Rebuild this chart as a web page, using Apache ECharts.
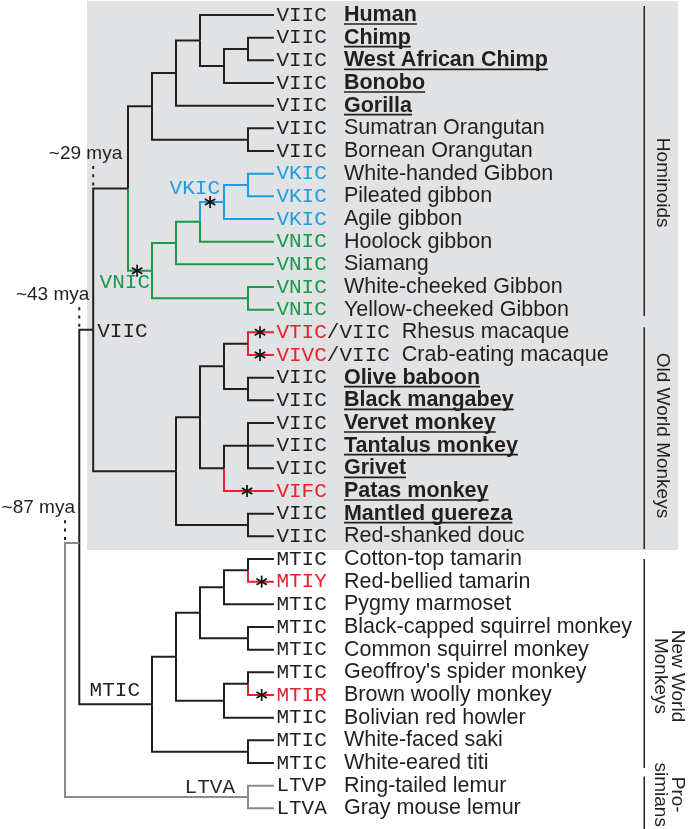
<!DOCTYPE html>
<html><head><meta charset="utf-8">
<script src="https://cdn.jsdelivr.net/npm/echarts@6/dist/echarts.min.js"></script>
<style>html,body{margin:0;padding:0;background:#fff}#c{width:694px;height:829px}</style>
</head><body><div id="c"></div>
<script>
// ---------------- DATA ----------------
const leafNames = ['Human','Chimp','West African Chimp','Bonobo','Gorilla','Sumatran Orangutan','Bornean Orangutan',
  'White-handed Gibbon','Pileated gibbon','Agile gibbon','Hoolock gibbon','Siamang','White-cheeked Gibbon','Yellow-cheeked Gibbon',
  'Rhesus macaque','Crab-eating macaque','Olive baboon','Black mangabey','Vervet monkey','Tantalus monkey','Grivet','Patas monkey',
  'Mantled guereza','Red-shanked douc','Cotton-top tamarin','Red-bellied tamarin','Pygmy marmoset','Black-capped squirrel monkey',
  'Common squirrel monkey',"Geoffroy's spider monkey",'Brown woolly monkey','Bolivian red howler','White-faced saki','White-eared titi',
  'Ring-tailed lemur','Gray mouse lemur'];
const leafMotifs = ['VIIC','VIIC','VIIC','VIIC','VIIC','VIIC','VIIC',
  'VKIC','VKIC','VKIC','VNIC','VNIC','VNIC','VNIC',
  'VTIC/VIIC','VIVC/VIIC','VIIC','VIIC','VIIC','VIIC','VIIC','VIFC',
  'VIIC','VIIC','MTIC','MTIY','MTIC','MTIC',
  'MTIC','MTIC','MTIR','MTIC','MTIC','MTIC',
  'LTVP','LTVA'];
const leafBold = [1,1,1,1,1,0,0, 0,0,0,0,0,0,0, 0,0,1,1,1,1,1,1, 1,0,0,0,0,0, 0,0,0,0,0,0, 0,0];
// tree: d = branch-point depth, st = motif state of the branch, lab = motif label, mut = mutation mark position, age = divergence time
const tree =
{d:1.375, st:'LTVA', age:'~87 mya', kids:[
  {d:1.97, st:'LTVA', y:23.29, age:'~43 mya', kids:[
    {d:2.55, st:'VIIC', age:'~29 mya', lab:'VIIC', kids:[
      {d:4, kids:[
        {d:5, kids:[
          {d:6, kids:[
            {d:7, kids:[0, {d:8, kids:[{d:9, kids:[1,2]}, 3]}]},
            4]},
          {d:9, kids:[5,6]}]},
        {d:5, st:'VNIC', lab:'VNIC', mut:4.38, kids:[
          {d:6, st:'VNIC', kids:[
            {d:7, st:'VNIC', kids:[
              {d:8, st:'VKIC', lab:'VKIC', mut:7.42, kids:[{d:9, st:'VKIC', kids:[7,8]}, 9]},
              10]},
            11]},
          {d:9, st:'VNIC', kids:[12,13]}]}]},
      {d:6, kids:[
        {d:7, kids:[
          {d:8, kids:[{d:9, kids:[14,15]}, {d:9, kids:[16,17]}]},
          {d:8, kids:[{d:9, kids:[18,19,20]}, 21]}]},
        {d:9, kids:[22,23]}]}]},
    {d:5, st:'MTIC', lab:'MTIC', kids:[
      {d:6, kids:[
        {d:7, kids:[
          {d:8, kids:[{d:9, kids:[24,25]}, 26]},
          {d:9, kids:[27,28]}]},
        {d:8, kids:[{d:9, kids:[29,30]}, 31]}]},
      {d:9, kids:[32,33]}]}]},
  {d:9, st:'LTVA', lab:'LTVA', kids:[34,35]}]};
const leafMutations = [[14,9.5],[15,9.5],[21,8.96],[25,9.57],[30,9.57]];
const groupNames = ['Hominoids','Old World Monkeys','New World\nMonkeys','Pro-\nsimians'];
const groupSpans = [[-0.4,13.28],[13.78,23.56],[24.0,33.22],[33.6,35.95]];

// ---------------- STYLE / LAYOUT ----------------
const TIP = 10.08;
const X0 = 32, XU = 24;
const BLACK = '#231f20';
const stateColor = {VIIC:BLACK, MTIC:BLACK, VKIC:'#1d9de2', VNIC:'#19994a', LTVA:'#8b8b8b', LTVP:'#8b8b8b'};
const textColor = {VIIC:BLACK, MTIC:BLACK, VKIC:'#1d9de2', VNIC:'#19994a', LTVA:BLACK, LTVP:BLACK};
const RED = '#e8212b';
const colorOf = s => stateColor[s] || RED;
const tColorOf = s => textColor[s] || RED;
const MONO = '21px "Liberation Mono"';
const SANS = '21.5px "Liberation Sans"';
const SANSB = 'bold 21.5px "Liberation Sans"';
const nodeLabelStyle = {VIIC:{dx:4,dy:2,align:'left',color:BLACK}, VNIC:{dx:-2,dy:12,align:'right',color:'#19994a'},
  VKIC:{dx:-4,dy:-14,align:'right',color:'#1d9de2'}, MTIC:{dx:-12,dy:-14,align:'right',color:BLACK},
  LTVA:{dx:-13,dy:-10,align:'right',color:'#2b2b2b'}};
const ageDx = {'~29 mya':29, '~43 mya':10, '~87 mya':10};
const groupLabelY = [7.4, 18.55, 29.16, 34.4];
const bracketX = 25.51;
const bgBox = [2.29, -0.62, 26.92, 23.6];

const ctx = document.createElement('canvas').getContext('2d');
function measure(t, f){ ctx.font = f; return ctx.measureText(t).width; }

// ---------------- LAYOUT OF TREE ----------------
const segs = [], nodes = [];
function lay(n){
  if (typeof n === 'number') return {d:TIP, y:n, st:leafMotifs[n].split('/')[0]};
  const kids = n.kids.map(lay);
  const y = n.y !== undefined ? n.y : (kids[0].y + kids[kids.length-1].y)/2;
  const node = Object.assign({}, n, {y, kidsL:kids, st:n.st || 'VIIC'});
  kids.forEach(k => segs.push({value:[n.d, y, k.y, k.d], itemStyle:{color: colorOf(k.st)}}));
  nodes.push(node);
  return node;
}
lay(tree);
const mutPts = nodes.filter(n => n.mut !== undefined).map(n => [n.mut, n.y])
  .concat(leafMutations.map(m => [m[1], m[0]]));
const labNodes = nodes.filter(n => n.lab);
const ageNodes = nodes.filter(n => n.age);

const chart = echarts.init(document.getElementById('c'), null, {renderer:'canvas'});
chart.setOption({
  animation:false,
  backgroundColor:'#fff',
  grid:{left:0, top:15, width:694, height:793.33, show:false},
  xAxis:{type:'value', min:-X0/XU, max:(694-X0)/XU, show:false},
  yAxis:{type:'value', min:0, max:35, inverse:true, show:false},
  series:[
    { // background box
      type:'custom', z:0, data:[[bgBox[0], bgBox[1], bgBox[2], bgBox[3]]],
      renderItem:(p, api) => {
        const a = api.coord([api.value(0), api.value(1)]), b = api.coord([api.value(2), api.value(3)]);
        return {type:'rect', shape:{x:a[0], y:a[1], width:b[0]-a[0], height:b[1]-a[1]}, style:{fill:'#e1e2e4'}};
      }
    },
    { // branches
      type:'custom', z:2, data:segs, encode:{x:[0,3], y:[1,2]},
      renderItem:(p, api) => {
        const a = api.coord([api.value(0), api.value(1)]);
        const b = api.coord([api.value(0), api.value(2)]);
        const c = api.coord([api.value(3), api.value(2)]);
        return {type:'polyline', shape:{points:[a,b,c]}, style:{stroke:api.visual('color'), lineWidth:2, fill:null, lineJoin:'miter'}};
      }
    },
    { // leaf labels
      type:'custom', z:3, data:leafNames.map((n,i) => [TIP, i]),
      renderItem:(p, api) => {
        const i = p.dataIndex;
        const pt = api.coord([api.value(0), api.value(1)]);
        const parts = leafMotifs[i].split('/');
        const ch = [];
        let x = pt[0] + 2.5;
        parts.forEach((s, k) => {
          const t = (k > 0 ? '/' : '') + s;
          ch.push({type:'text', style:{text:t, x:x, y:pt[1], font:MONO, fill:tColorOf(s), align:'left', verticalAlign:'middle'}});
          x += measure(t, MONO);
        });
        const nx = Math.max(pt[0] + 70, x + 12);
        const f = leafBold[i] ? SANSB : SANS;
        ch.push({type:'text', style:{text:leafNames[i], x:nx, y:pt[1], font:f, fill:BLACK, align:'left', verticalAlign:'middle'}});
        if (leafBold[i]) {
          const w = measure(leafNames[i], f);
          ch.push({type:'line', shape:{x1:nx, y1:pt[1]+9, x2:nx+w, y2:pt[1]+9}, style:{stroke:BLACK, lineWidth:1.6}});
        }
        return {type:'group', children:ch};
      }
    },
    { // node motif labels
      type:'custom', z:3, data:labNodes.map(n => [n.d, n.y]),
      renderItem:(p, api) => {
        const n = labNodes[p.dataIndex], s = nodeLabelStyle[n.lab];
        const pt = api.coord([api.value(0), api.value(1)]);
        return {type:'text', style:{text:n.lab, x:pt[0]+s.dx, y:pt[1]+s.dy, font:MONO, fill:s.color, align:s.align, verticalAlign:'middle'}};
      }
    },
    { // mutation asterisks
      type:'custom', z:4, data:mutPts,
      renderItem:(p, api) => {
        const pt = api.coord([api.value(0), api.value(1)]);
        const r = 6, ch = [];
        [90, 30, -30].forEach(a => {
          const dx = r*Math.cos(a*Math.PI/180), dy = r*Math.sin(a*Math.PI/180);
          ch.push({type:'line', shape:{x1:pt[0]-dx, y1:pt[1]-dy, x2:pt[0]+dx, y2:pt[1]+dy}, style:{stroke:'#111', lineWidth:1.7}});
        });
        return {type:'group', children:ch};
      }
    },
    { // divergence times
      type:'custom', z:3, data:ageNodes.map(n => [n.d, Math.min.apply(null, n.kidsL.map(k => k.y))]),
      renderItem:(p, api) => {
        const n = ageNodes[p.dataIndex];
        const pt = api.coord([api.value(0), api.value(1)]);
        const top = pt[1] - 24;
        return {type:'group', children:[
          {type:'line', shape:{x1:pt[0], y1:pt[1]-3, x2:pt[0], y2:top}, style:{stroke:BLACK, lineWidth:2, lineDash:[3,5.3]}},
          {type:'text', style:{text:n.age, x:pt[0]+ageDx[n.age], y:top-11, font:'19px "Liberation Sans"', fill:BLACK, align:'right', verticalAlign:'middle'}}
        ]};
      }
    },
    { // group brackets
      type:'custom', z:3, data:groupSpans.map((s,i) => [bracketX, s[0], s[1], groupLabelY[i]]),
      renderItem:(p, api) => {
        const a = api.coord([api.value(0), api.value(1)]), b = api.coord([api.value(0), api.value(2)]);
        const c = api.coord([api.value(0), api.value(3)]);
        const two = groupNames[p.dataIndex].indexOf('\n') >= 0;
        return {type:'group', children:[
          {type:'line', shape:{x1:a[0], y1:a[1], x2:b[0], y2:b[1]}, style:{stroke:BLACK, lineWidth:1.5}},
          {type:'text', x:a[0] + (two ? 24 : 18), y:c[1], rotation:-Math.PI/2,
           style:{text:groupNames[p.dataIndex], x:0, y:0, font:'19px "Liberation Sans"', fill:BLACK, align:'center', verticalAlign:'middle', lineHeight:17}}
        ]};
      }
    }
  ]
});
</script></body></html>
